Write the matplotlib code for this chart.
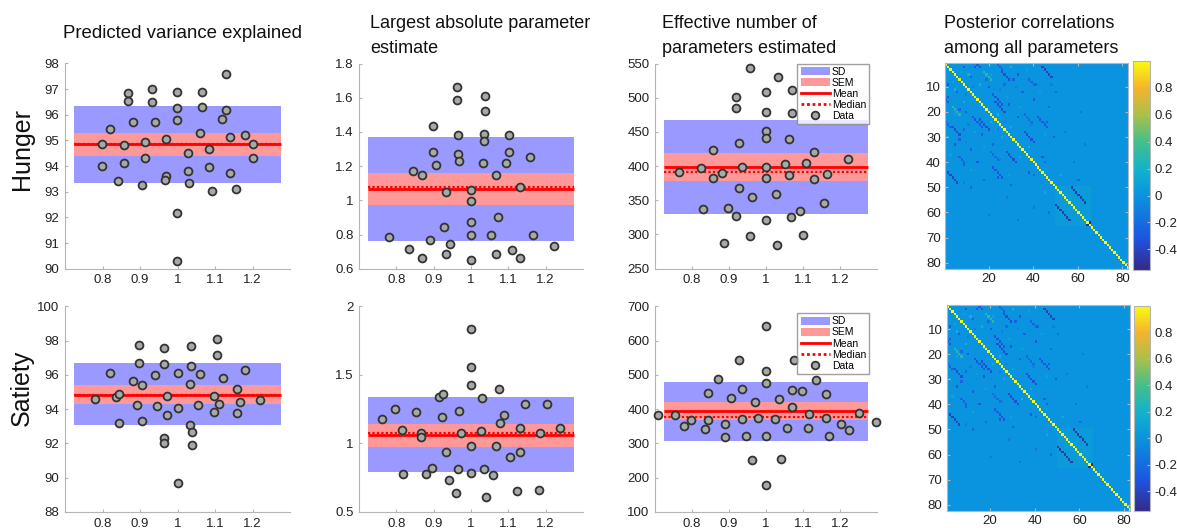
import numpy as np
import matplotlib.pyplot as plt
from matplotlib.colors import LinearSegmentedColormap
from matplotlib.patches import Patch
from matplotlib.lines import Line2D

plt.rcParams['font.family'] = ['Liberation Sans', 'DejaVu Sans']

# ---------------- data ----------------
# Hunger: predicted variance explained
hv_x = [0.798, 0.799, 0.82, 0.842, 0.857, 0.857, 0.868, 0.868, 0.88, 0.906, 0.914,
        0.914, 0.933, 0.933, 0.939, 0.97, 0.97, 0.967, 0.998, 0.998, 0.998, 0.998,
        0.998, 1.028, 1.028, 1.03, 1.064, 1.064, 1.059, 1.084, 1.084, 1.092, 1.13,
        1.13, 1.119, 1.14, 1.14, 1.156, 1.179, 1.2, 1.2]
hv_y = [94.85, 93.99, 95.44, 93.43, 94.81, 94.14, 96.84, 96.54, 95.73, 93.27, 94.95,
        94.33, 97.0, 96.51, 95.72, 95.04, 93.63, 93.47, 96.9, 96.28, 95.81, 92.19,
        90.29, 94.5, 93.79, 93.33, 96.89, 96.31, 95.28, 94.65, 93.96, 93.04, 97.58,
        96.18, 95.82, 95.15, 93.74, 93.1, 95.23, 94.87, 94.33]
# sd_lo, sd_hi, sem_lo, sem_hi, mean, median
hv_band = [93.34, 96.35, 94.40, 95.30, 94.85, 94.86]

# Hunger: largest absolute parameter estimate
hp_x = [0.78, 0.835, 0.844, 0.869, 0.869, 0.891, 0.897, 0.897, 0.906, 0.928, 0.934,
        0.934, 0.945, 0.963, 0.963, 0.966, 0.966, 0.969, 1.0, 1.0, 1.0, 1.0, 1.0,
        1.037, 1.037, 1.035, 1.035, 1.032, 1.054, 1.066, 1.066, 1.072, 1.103, 1.103,
        1.095, 1.109, 1.132, 1.132, 1.158, 1.165, 1.221]
hp_y = [0.784, 0.715, 1.173, 0.662, 1.148, 0.767, 1.437, 1.283, 1.208, 0.841, 1.05,
        0.687, 0.744, 1.662, 1.584, 1.379, 1.268, 1.227, 1.062, 0.998, 0.872, 0.8,
        0.649, 1.608, 1.52, 1.39, 1.346, 1.221, 0.798, 1.146, 0.685, 0.901, 1.383,
        1.28, 1.221, 0.711, 1.08, 0.664, 1.252, 0.8, 0.73]
hp_band = [0.763, 1.371, 0.973, 1.157, 1.067, 1.076]

# Hunger: effective number of parameters estimated
hn_x = [0.765, 0.824, 0.831, 0.857, 0.858, 0.88, 0.887, 0.896, 0.918, 0.918, 0.918,
        0.926, 0.926, 0.936, 0.956, 0.958, 0.961, 1.0, 1.0, 1.0, 1.0, 1.0, 1.0, 1.0,
        1.033, 1.029, 1.026, 1.05, 1.061, 1.062, 1.069, 1.069, 1.068, 1.091, 1.1,
        1.107, 1.13, 1.13, 1.157, 1.164, 1.221]
hn_y = [390.8, 397.6, 336.7, 424.2, 383.1, 390.3, 287.4, 339.1, 501, 484.5, 327,
        434.3, 368.6, 398.1, 543.5, 298, 355.1, 508.7, 479.7, 451.7, 441.5, 398.1,
        383.1, 321.7, 530, 285, 358.5, 402.4, 439.1, 387, 511.1, 478.3, 325.6, 334.3,
        299.5, 403.9, 421.3, 381.6, 346.4, 387.9, 411.1]
hn_band = [330.4, 466.7, 377.8, 419.3, 398.6, 390.8]

# Satiety: predicted variance explained
sv_x = [0.781, 0.821, 0.836, 0.844, 0.844, 0.881, 0.891, 0.897, 0.897, 0.906, 0.906,
        0.94, 0.946, 0.964, 0.964, 0.963, 0.963, 0.971, 0.971, 1.0, 1.0, 1.0, 1.036,
        1.036, 1.032, 1.032, 1.038, 1.038, 1.061, 1.055, 1.105, 1.105, 1.121, 1.096,
        1.096, 1.111, 1.159, 1.166, 1.159, 1.181, 1.221]
sv_y = [94.62, 96.12, 94.72, 94.89, 93.22, 95.65, 94.25, 97.74, 96.68, 95.4, 93.32,
        96.02, 94.18, 97.56, 96.61, 92.31, 92.03, 94.74, 93.63, 96.1, 94.06, 89.72,
        97.68, 96.53, 95.44, 93.07, 92.68, 91.88, 96.06, 94.25, 98.09, 97.15, 95.81,
        94.78, 93.82, 94.29, 95.15, 94.39, 93.79, 96.3, 94.53]
sv_band = [93.05, 96.67, 94.31, 95.38, 94.80, 94.85]

# Satiety: largest absolute parameter estimate
sp_x = [0.761, 0.797, 0.814, 0.818, 0.854, 0.867, 0.867, 0.879, 0.895, 0.913, 0.926,
        0.921, 0.932, 0.94, 0.96, 0.966, 0.969, 0.973, 1.0, 1.0, 1.0, 1.0, 1.0, 1.029,
        1.027, 1.034, 1.039, 1.059, 1.068, 1.074, 1.078, 1.088, 1.105, 1.122, 1.132,
        1.132, 1.145, 1.182, 1.186, 1.203, 1.239]
sp_y = [1.177, 1.252, 1.099, 0.775, 1.227, 1.073, 1.046, 0.78, 0.819, 1.336, 1.36,
        1.191, 0.937, 0.732, 0.64, 0.814, 1.235, 1.077, 1.832, 1.561, 1.423, 0.981,
        0.782, 1.331, 1.089, 0.811, 0.606, 0.768, 0.978, 1.394, 1.152, 1.208, 0.903,
        0.654, 1.116, 0.935, 1.285, 0.657, 1.073, 1.29, 1.116]
sp_band = [0.792, 1.336, 0.976, 1.145, 1.06, 1.073]

# Satiety: effective number of parameters estimated
sn_x = [0.707, 0.753, 0.778, 0.798, 0.834, 0.843, 0.843, 0.869, 0.89, 0.89, 0.906,
        0.928, 0.935, 0.935, 0.946, 0.963, 0.969, 0.979, 1.0, 1.0, 1.0, 1.0, 1.0,
        1.024, 1.034, 1.041, 1.057, 1.075, 1.069, 1.069, 1.098, 1.115, 1.113, 1.136,
        1.169, 1.161, 1.161, 1.204, 1.225, 1.252, 1.297]
sn_y = [383.4, 382.4, 351.1, 368.7, 342.3, 447.9, 368.7, 487, 356, 319.9, 431.3,
        544.6, 458.6, 372.6, 321.8, 251.5, 419.5, 375.6, 641.4, 511.4, 476.2, 320.8,
        178.2, 370.7, 428.3, 253.4, 344.3, 542.7, 455.7, 404.9, 451.8, 384.4, 344.3,
        485, 321.8, 445, 374.6, 357, 339.4, 389.2, 361.9]
sn_band = [308.1, 479.2, 367.8, 421.5, 395.1, 376.5]

# posterior correlation matrix: 82 parameters, symmetric, diagonal = 1
n_par = 82
# (row, col, length, value): streaks running parallel to the diagonal
streaks = [(18, 4, 4, 0.3), (26, 4, 4, -0.35), (44, 2, 5, -0.4), (22, 13, 5, -0.3),
           (23, 16, 5, -0.35), (36, 28, 5, -0.35), (42, 22, 5, -0.3), (57, 50, 7, -0.45),
           (38, 7, 3, -0.25), (15, 1, 2, -0.3), (24, 1, 3, -0.25), (36, 21, 4, -0.2)]
# (row, col, value): isolated cells
spots = [(9, 2, -0.3), (12, 6, -0.25), (20, 10, -0.3), (16, 9, 0.2), (30, 2, 0.25),
         (33, 5, -0.3), (35, 12, -0.25), (29, 17, -0.3), (40, 15, -0.3), (41, 9, -0.25),
         (47, 18, -0.2), (46, 24, -0.3), (49, 30, -0.25), (30, 26, 0.15), (27, 9, -0.2),
         (14, 2, -0.3), (11, 5, 0.2), (33, 22, -0.25), (38, 34, 0.2), (45, 40, -0.2),
         (50, 12, -0.2), (54, 28, -0.15), (58, 40, -0.15), (61, 20, -0.15), (60, 47, -0.2),
         (52, 45, 0.15), (63, 33, -0.15), (44, 38, -0.3), (24, 21, 0.2), (31, 7, -0.25),
         (19, 7, -0.2), (65, 64, -0.55), (8, 4, 0.1), (13, 10, -0.1), (21, 5, 0.1),
         (25, 11, -0.1), (28, 14, 0.1), (32, 10, -0.1), (34, 18, 0.1), (39, 25, -0.1),
         (43, 12, 0.1), (48, 9, -0.1), (37, 3, 0.1), (27, 24, -0.1), (45, 29, 0.1)]
block = (50, 65, 0.05)

# parula-like colour stops (position, colour)
parula = [(0.0, '#352a87'), (0.15, '#1d55e0'), (0.355, '#0a94de'), (0.48, '#12b2cc'),
          (0.61, '#42bf8c'), (0.74, '#a9c04b'), (0.87, '#f5b42c'), (1.0, '#f9fb0e')]

# ---------------- layout (pixels) ----------------
W, H = 1177, 528
fig = plt.figure(figsize=(W / 100, H / 100), dpi=100)


def px_axes(l, t, r, b):
    return fig.add_axes([l / W, 1 - b / H, (r - l) / W, (b - t) / H])


def draw_panel(ax, xs, ys, band, ylim, yticks, ylabels):
    sd_lo, sd_hi, sem_lo, sem_hi, mean, median = band
    bx = [0.725, 1.275]
    ax.fill_between(bx, sd_lo, sd_hi, color='#9999ff', lw=0, zorder=1)
    ax.fill_between(bx, sem_lo, sem_hi, color='#ff9999', lw=0, zorder=2)
    ax.plot(bx, [mean, mean], color='red', lw=2, zorder=3, solid_capstyle='butt')
    ax.plot(bx, [median, median], color='red', lw=1.6, ls=(0, (1, 1)), zorder=3)
    ax.scatter(xs, ys, s=32, c='#a6aaa6', edgecolors='#333333', linewidths=1.3,
               zorder=4, clip_on=False)
    ax.set_xlim(0.7, 1.3)
    ax.set_ylim(ylim)
    ax.set_xticks([0.8, 0.9, 1.0, 1.1, 1.2])
    ax.set_xticklabels(['0.8', '0.9', '1', '1.1', '1.2'])
    ax.set_yticks(yticks)
    ax.set_yticklabels(ylabels)
    for s in ['top', 'right']:
        ax.spines[s].set_visible(False)
    for s in ['left', 'bottom']:
        ax.spines[s].set_color('#b5b5b5')
    ax.tick_params(direction='in', length=2, color='#b5b5b5', labelsize=9.5,
                   labelcolor='#222222', pad=4)


def add_legend(ax, top):
    handles = [Patch(fc='#9999ff', label='SD'), Patch(fc='#ff9999', label='SEM'),
               Line2D([], [], color='red', lw=2, label='Mean'),
               Line2D([], [], color='red', lw=2, ls=(0, (1, 1)), label='Median'),
               Line2D([], [], ls='none', marker='o', ms=5.5, mfc='#a6aaa6',
                      mec='#333333', mew=1.3, label='Data')]
    leg = ax.legend(handles=handles, loc='upper right', bbox_to_anchor=(0.965, top),
                    fontsize=7.5, handlelength=2.8, handleheight=0.8,
                    handletextpad=0.2, labelspacing=0.1, borderpad=0.3,
                    borderaxespad=0, frameon=True, fancybox=False)
    leg.get_frame().set_edgecolor('#888888')
    leg.get_frame().set_linewidth(1.0)


def corr_matrix():
    m = np.zeros((n_par, n_par))
    b0, b1, bv = block
    m[b0 - 1:b1, b0 - 1:b1] = bv
    for r, c, L, v in streaks:
        for k in range(L):
            m[r - 1 + k, c - 1 + k] = v
            m[c - 1 + k, r - 1 + k] = v
    for r, c, v in spots:
        m[r - 1, c - 1] = v
        m[c - 1, r - 1] = v
    np.fill_diagonal(m, 1.0)
    return m


cmap = LinearSegmentedColormap.from_list('parula', parula)


def draw_heat(hx, cx, t, b):
    ax = px_axes(hx[0], t[0], hx[1], b[0])
    im = ax.imshow(corr_matrix(), cmap=cmap, vmin=-0.55, vmax=1.0, aspect='auto',
                   interpolation='nearest', extent=(0.5, n_par + 0.5, n_par + 0.5, 0.5))
    ax.set_xticks([20, 40, 60, 80])
    ax.set_yticks(range(10, 81, 10))
    for s in ax.spines.values():
        s.set_color('#b5b5b5')
    ax.tick_params(direction='in', length=2, color='#b5b5b5', labelsize=9.5,
                   labelcolor='#222222', top=True, right=True, pad=3)
    cax = px_axes(cx[0], t[1], cx[1], b[1])
    cb = fig.colorbar(im, cax=cax, ticks=[-0.4, -0.2, 0, 0.2, 0.4, 0.6, 0.8])
    cb.ax.set_yticklabels(['-0.4', '-0.2', '0', '0.2', '0.4', '0.6', '0.8'])
    cb.outline.set_edgecolor('#b5b5b5')
    cb.ax.tick_params(direction='in', length=2, color='#b5b5b5', labelsize=9.5,
                      labelcolor='#222222', pad=3)


lefts = [65, 359, 655]
rights = [290, 583, 877]
rows_tb = [(63.5, 268.7), (306.3, 512)]

panels = [
    (hv_x, hv_y, hv_band, (90, 98), list(range(90, 99)), [str(v) for v in range(90, 99)]),
    (hp_x, hp_y, hp_band, (0.6, 1.8), [0.6, 0.8, 1.0, 1.2, 1.4, 1.6, 1.8],
     ['0.6', '0.8', '1', '1.2', '1.4', '1.6', '1.8']),
    (hn_x, hn_y, hn_band, (250, 550), list(range(250, 551, 50)),
     [str(v) for v in range(250, 551, 50)]),
    (sv_x, sv_y, sv_band, (88, 100), list(range(88, 101, 2)),
     [str(v) for v in range(88, 101, 2)]),
    (sp_x, sp_y, sp_band, (0.5, 2), [0.5, 1.0, 1.5, 2.0], ['0.5', '1', '1.5', '2']),
    (sn_x, sn_y, sn_band, (100, 700), list(range(100, 701, 100)),
     [str(v) for v in range(100, 701, 100)]),
]

for i, p in enumerate(panels):
    row, col = divmod(i, 3)
    t, b = rows_tb[row]
    ax = px_axes(lefts[col], t, rights[col], b)
    draw_panel(ax, *p)
    if col == 2:
        add_legend(ax, 1.0 if row == 0 else 0.966)

draw_heat((945, 1128), (1133, 1150), (63, 61), (269, 269.5))
draw_heat((946.5, 1129.6), (1134, 1150), (305.2, 305.5), (511, 511))

# titles and row labels
fig.text(63 / W, 1 - 38 / H, 'Predicted variance explained', fontsize=13.4,
         color='#111111', ha='left', va='baseline')
title_lines = [(370, ['Largest absolute parameter', 'estimate']),
               (662, ['Effective number of', 'parameters estimated']),
               (944, ['Posterior correlations', 'among all parameters'])]
for x, lines in title_lines:
    for j, s in enumerate(lines):
        fig.text(x / W, 1 - (28 + 25 * j) / H, s, fontsize=13, color='#111111',
                 ha='left', va='baseline')

fig.text(22 / W, 1 - 149 / H, 'Hunger', rotation=90, fontsize=18, ha='center',
         va='center', color='#111111')
fig.text(22 / W, 1 - 388 / H, 'Satiety', rotation=90, fontsize=18, ha='center',
         va='center', color='#111111')

fig.savefig('out.png', dpi=100)
